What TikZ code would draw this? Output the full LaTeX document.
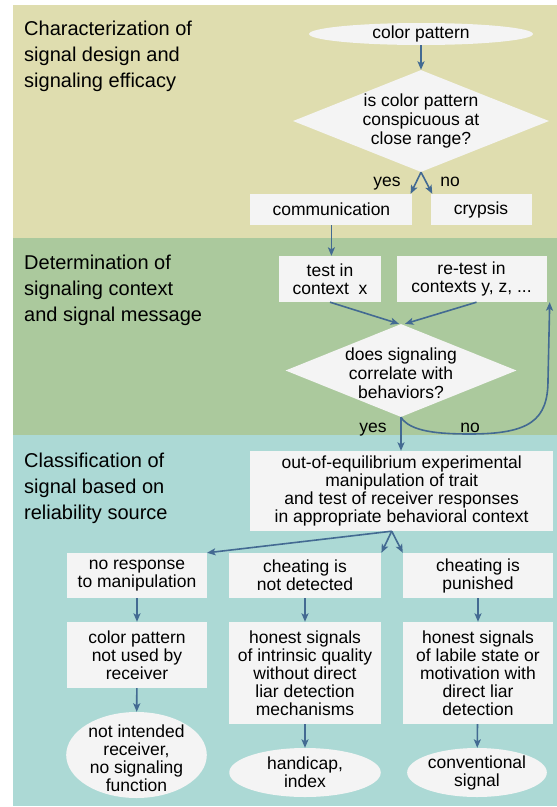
\documentclass[tikz,border=0pt]{standalone}
\usepackage{fontspec}
\setmainfont{Liberation Sans}
\usepackage{tikz}
\usetikzlibrary{shapes.geometric, arrows.meta}

\definecolor{designband}{RGB}{223,221,175}
\definecolor{contextband}{RGB}{171,201,157}
\definecolor{sourceband}{RGB}{172,217,213}
\definecolor{boxgray}{RGB}{244,244,244}
\definecolor{linkblue}{RGB}{67,106,146}

\begin{document}
\begin{tikzpicture}
[
    x = 1pt, y = -1pt,
    every node/.style = {inner sep = 0pt, font = \fontsize{17.5}{18}\selectfont},
    heading/.style = {anchor = north west, align = left, font = \fontsize{20}{25.7}\selectfont},
    box/.style = {rectangle, fill = boxgray, align = center},
    oval/.style = {ellipse, fill = boxgray},
    query/.style = {diamond, fill = boxgray},
    inside/.style = {align = center},
    asks/.style = {align = center, font = \fontsize{17.5}{19.2}\selectfont},
    link/.style = {draw = linkblue, line width = 1.6pt, -{Stealth[length = 8.5pt, width = 7pt, inset = 2pt]}},
]
    \fill[designband] (13,5) rectangle (557,238);
    \fill[contextband] (13,238) rectangle (557,435);
    \fill[sourceband] (13,435) rectangle (557,806);
    \useasboundingbox (0,0) rectangle (557,807);

    \node[heading] (design) at (24,21) {Characterization of\\signal design and\\signaling efficacy};
    \node[heading] (context) at (24,255) {Determination of\\signaling context\\and signal message};
    \node[heading] (source) at (24,453) {Classification of\\signal based on\\reliability source};

    \node[oval, minimum width = 224, minimum height = 22, label = {[inside]center:color pattern}] (start) at (421,34) {};
    \node[query, minimum width = 256, minimum height = 102,
        label = {[asks]center:{is color pattern\\conspicuous at\\close range?}}] (conspicuous) at (421,121) {};
    \node[anchor = base] (yes1) at (387,186) {yes};
    \node[anchor = base] (no1) at (450,186) {no};
    \node[box, minimum width = 162, minimum height = 31] (comm) at (331.4,209.5) {communication};
    \node[box, minimum width = 101, minimum height = 31] (crypsis) at (481,209.5) {crypsis};

    \node[box, minimum width = 102.5, minimum height = 46] (test) at (330,279) {test in\\context~~x};
    \node[box, minimum width = 150, minimum height = 46] (retest) at (471.5,279) {re-test in\\contexts y, z, ...};
    \node[query, minimum width = 231, minimum height = 93,
        label = {[asks, yshift = -3pt]center:{does signaling\\correlate with\\behaviors?}}] (correlate) at (401,370.5) {};
    \node[anchor = base] (yes2) at (373,432) {yes};
    \node[anchor = base] (no2) at (470,432) {no};

    \node[box, minimum width = 302.7, minimum height = 80] (manip) at (401.7,491)
        {out-of-equilibrium experimental\\manipulation of trait\\and test of receiver responses\\in appropriate behavioral context};
    \node[box, minimum width = 139.6, minimum height = 45] (noresp) at (137,575.5) {no response\\to manipulation};
    \node[box, minimum width = 152.4, minimum height = 45] (undetected) at (305,575.5) {cheating is\\not detected};
    \node[box, minimum width = 150, minimum height = 45] (punished) at (478,575.5) {cheating is\\punished};
    \node[box, minimum width = 139.6, minimum height = 66] (unused) at (137,655) {color pattern\\not used by\\receiver};
    \node[box, minimum width = 152.4, minimum height = 102] (intrinsic) at (305,673)
        {honest signals\\of intrinsic quality\\without direct\\liar detection\\mechanisms};
    \node[box, minimum width = 150, minimum height = 102] (labile) at (478,673)
        {honest signals\\of labile state or\\motivation with\\direct liar\\detection};
    \node[oval, minimum width = 140.6, minimum height = 86,
        label = {[inside, yshift = -3pt]center:{not intended\\receiver,\\no signaling\\function}}] (nofunction) at (136.5,755) {};
    \node[oval, minimum width = 151.5, minimum height = 49,
        label = {[inside]center:{handicap,\\index}}] (handicap) at (305,772.5) {};
    \node[oval, minimum width = 139.7, minimum height = 49,
        label = {[inside]center:{conventional\\signal}}] (conventional) at (477,772.5) {};

    \draw[link] (start) -- (conspicuous);
    \draw[link] (conspicuous.south) -- ([xshift = -2pt]comm.north east);
    \draw[link] (conspicuous.south) -- ([xshift = 2pt]crypsis.north west);
    \draw[link] (comm.south) -- (comm.south |- test.north);
    \draw[link] (test.south) -- ([xshift = -2pt]correlate.north);
    \draw[link] ([xshift = 5pt]retest.south) -- ([xshift = 4pt]correlate.north);
    \draw[link] (correlate.south) -- (correlate.south |- manip.north);
    \draw[link] (correlate.south) .. controls (410,432) and (440,434) .. (470,434)
        .. controls (530,434) and (548,420) .. (548,380) -- ([xshift = 3pt]retest.south east);
    \draw[link] ([xshift = -10pt]manip.south) -- (noresp.north east);
    \draw[link] ([xshift = -10pt]manip.south) -- (undetected.north east);
    \draw[link] ([xshift = -10pt]manip.south) -- (punished.north west);
    \draw[link] (noresp) -- (unused);
    \draw[link] (unused) -- (nofunction);
    \draw[link] (undetected) -- (intrinsic);
    \draw[link] (intrinsic) -- (handicap);
    \draw[link] (punished) -- (labile);
    \draw[link] (labile) -- (conventional);
\end{tikzpicture}
\end{document}
